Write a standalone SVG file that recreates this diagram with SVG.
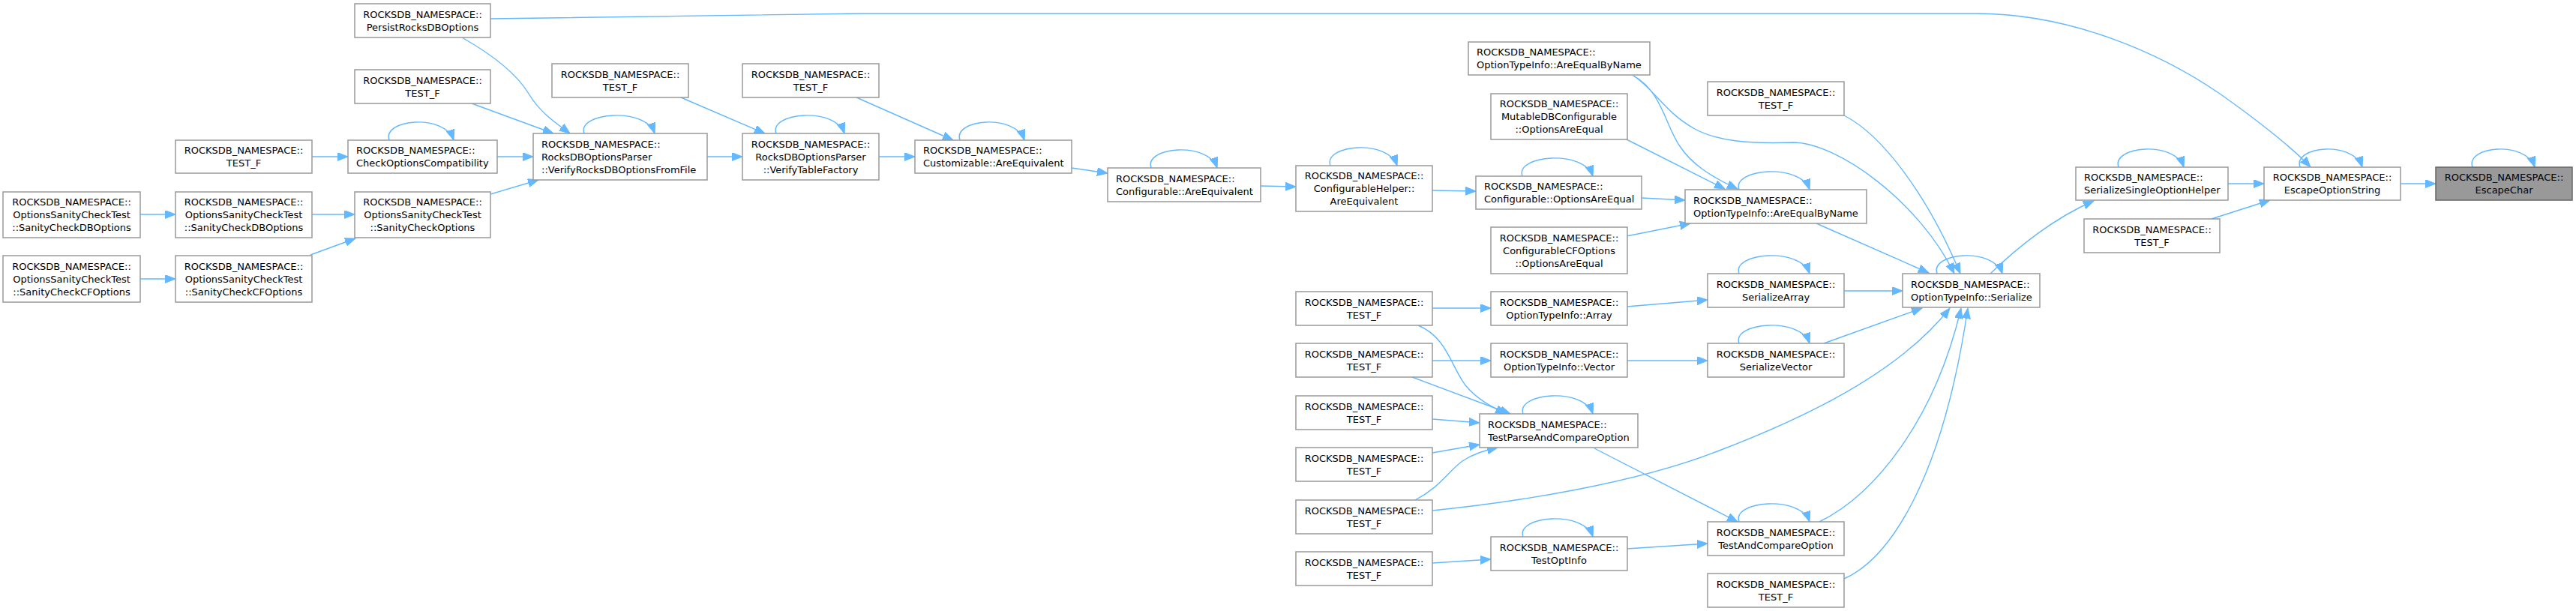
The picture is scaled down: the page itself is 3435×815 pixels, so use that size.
<svg xmlns="http://www.w3.org/2000/svg" width="3435" height="815" viewBox="0 0 3435 815">
<style>
.nd rect{fill:#fff;stroke:#999;stroke-width:1.5}
.hl rect{fill:#999;stroke:#666;stroke-width:1.5}
text{font-family:"DejaVu Sans","Liberation Sans",sans-serif;font-size:13px;fill:#000}
.c{text-anchor:middle}
.e path{fill:none;stroke:#63b8ff;stroke-width:1.4;marker-end:url(#ah)}
</style>
<defs>
<marker id="ah" markerUnits="userSpaceOnUse" markerWidth="15" markerHeight="12" viewBox="0 0 15 12" refX="14" refY="5.5" orient="auto"><path d="M0,0L14,5.5L0,11z" fill="#63b8ff" stroke="#63b8ff" stroke-width="1"/></marker>
</defs>
<rect width="3435" height="815" fill="#fff"/>
<g class="e" id="edges">
<path d="M3201,245L3248,245"/>
<path d="M3297,223C3287,195 3368,187 3380,223"/>
<path d="M2971,245L3019,245"/>
<path d="M2949,292L3027,267"/>
<path d="M3067,223C3057,195 3138,187 3150,223"/>
<path d="M654,25L1150,18L2635,18C2760,18 2880,70 2960,125C3010,160 3060,200 3081,223"/>
<path d="M2825,223C2815,195 2900,187 2912,223"/>
<path d="M2654,365C2690,330 2740,290 2792,268"/>
<path d="M2583,365C2573,337 2658,329 2670,365"/>
<path d="M2422,298L2572,364"/>
<path d="M2459,154C2510,180 2570,260 2614,365"/>
<path d="M2178,101C2205,118 2220,150 2260,172C2290,188 2330,192 2391,190C2450,190 2560,270 2606,365"/>
<path d="M2178,101C2215,120 2222,170 2240,195C2255,218 2280,235 2317,252"/>
<path d="M2169,186L2300,252"/>
<path d="M2189,264L2247,267"/>
<path d="M2169,315L2254,298"/>
<path d="M2319,253C2309,225 2401,217 2413,253"/>
<path d="M2459,388L2537,388"/>
<path d="M2319,365C2309,337 2401,329 2413,365"/>
<path d="M2432,458L2563,411"/>
<path d="M2319,458C2309,430 2401,422 2413,458"/>
<path d="M1910,681C2020,670 2180,645 2290,602C2400,560 2530,500 2600,411"/>
<path d="M2426,696C2500,660 2580,560 2615,411"/>
<path d="M2459,772C2520,745 2590,640 2624,411"/>
<path d="M2319,696C2309,668 2401,660 2413,696"/>
<path d="M2126,598L2317,696"/>
<path d="M2169,732L2277,725"/>
<path d="M2031,716C2021,688 2112,680 2124,716"/>
<path d="M1910,751L1988,746"/>
<path d="M2031,552C2021,524 2112,516 2124,552"/>
<path d="M1910,559L1973,564"/>
<path d="M1910,604L1973,593"/>
<path d="M1887,667C1920,650 1930,630 1950,615C1965,605 1980,601 1997,597"/>
<path d="M1883,503L2014,552"/>
<path d="M1891,434C1930,450 1935,490 1955,515C1970,533 1990,543 2008,552"/>
<path d="M1910,411L1988,411"/>
<path d="M1910,481L1988,481"/>
<path d="M2169,409L2277,400"/>
<path d="M2169,481L2277,481"/>
<path d="M1910,254L1968,255"/>
<path d="M2030,235C2020,207 2112,199 2124,235"/>
<path d="M1774,221C1764,193 1851,185 1863,221"/>
<path d="M1681,248L1728,249"/>
<path d="M1535,224C1525,196 1611,188 1623,224"/>
<path d="M1429,224L1477,231"/>
<path d="M1280,187C1270,159 1354,151 1366,187"/>
<path d="M1172,209L1220,209"/>
<path d="M1142,130L1271,187"/>
<path d="M1035,178C1025,150 1114,142 1126,178"/>
<path d="M943,209L990,209"/>
<path d="M908,130L1020,178"/>
<path d="M779,178C769,150 861,142 873,178"/>
<path d="M616,50C660,75 690,100 705,125C720,150 740,163 760,178"/>
<path d="M629,138L738,178"/>
<path d="M663,209L711,209"/>
<path d="M654,259L718,240"/>
<path d="M519,187C509,159 593,151 605,187"/>
<path d="M416,209L464,209"/>
<path d="M416,286L473,286"/>
<path d="M414,340L474,318"/>
<path d="M187,286L234,286"/>
<path d="M187,372L234,372"/>
</g>
<g id="n_escapechar" class="hl"><rect x="3248" y="223" width="182" height="44"/><text class="c" x="3339" y="241">ROCKSDB_NAMESPACE::</text><text class="c" x="3339" y="258">EscapeChar</text></g>
<g id="n_escopt" class="nd"><rect x="3019" y="223" width="182" height="44"/><text class="c" x="3110" y="241">ROCKSDB_NAMESPACE::</text><text class="c" x="3110" y="258">EscapeOptionString</text></g>
<g id="n_ssoh" class="nd"><rect x="2768" y="223" width="203" height="44"/><text x="2779" y="241">ROCKSDB_NAMESPACE::</text><text x="2779" y="258">SerializeSingleOptionHelper</text></g>
<g id="n_testf_r1" class="nd"><rect x="2779" y="292" width="181" height="45"/><text class="c" x="2869.5" y="310.7">ROCKSDB_NAMESPACE::</text><text class="c" x="2869.5" y="327.7">TEST_F</text></g>
<g id="n_persist" class="nd"><rect x="473" y="5" width="181" height="45"/><text class="c" x="563.5" y="23.7">ROCKSDB_NAMESPACE::</text><text class="c" x="563.5" y="40.7">PersistRocksDBOptions</text></g>
<g id="n_serialize" class="nd"><rect x="2537" y="365" width="183" height="45"/><text x="2548" y="383.7">ROCKSDB_NAMESPACE::</text><text x="2548" y="400.7">OptionTypeInfo::Serialize</text></g>
<g id="n_aebn_r" class="nd"><rect x="2247" y="253" width="242" height="45"/><text x="2258" y="271.7">ROCKSDB_NAMESPACE::</text><text x="2258" y="288.7">OptionTypeInfo::AreEqualByName</text></g>
<g id="n_aebn_top" class="nd"><rect x="1958" y="56" width="242" height="44"/><text x="1969" y="74.2">ROCKSDB_NAMESPACE::</text><text x="1969" y="91.2">OptionTypeInfo::AreEqualByName</text></g>
<g id="n_testf_r2" class="nd"><rect x="2277" y="109" width="182" height="45"/><text class="c" x="2368" y="127.7">ROCKSDB_NAMESPACE::</text><text class="c" x="2368" y="144.7">TEST_F</text></g>
<g id="n_sarray" class="nd"><rect x="2277" y="365" width="182" height="45"/><text class="c" x="2368" y="383.7">ROCKSDB_NAMESPACE::</text><text class="c" x="2368" y="400.7">SerializeArray</text></g>
<g id="n_svector" class="nd"><rect x="2277" y="458" width="182" height="45"/><text class="c" x="2368" y="476.7">ROCKSDB_NAMESPACE::</text><text class="c" x="2368" y="493.7">SerializeVector</text></g>
<g id="n_taco" class="nd"><rect x="2277" y="696" width="182" height="45"/><text class="c" x="2368" y="714.7">ROCKSDB_NAMESPACE::</text><text class="c" x="2368" y="731.7">TestAndCompareOption</text></g>
<g id="n_testf_r3" class="nd"><rect x="2277" y="765" width="182" height="45"/><text class="c" x="2368" y="783.7">ROCKSDB_NAMESPACE::</text><text class="c" x="2368" y="800.7">TEST_F</text></g>
<g id="n_mutable" class="nd"><rect x="1988" y="125" width="182" height="61"/><text class="c" x="2079" y="143.2">ROCKSDB_NAMESPACE::</text><text class="c" x="2079" y="160.2">MutableDBConfigurable</text><text class="c" x="2079" y="177.2">::OptionsAreEqual</text></g>
<g id="n_cfg_oae" class="nd"><rect x="1968" y="235" width="221" height="44"/><text x="1979" y="253.2">ROCKSDB_NAMESPACE::</text><text x="1979" y="270.2">Configurable::OptionsAreEqual</text></g>
<g id="n_cfcfg" class="nd"><rect x="1988" y="303" width="182" height="62"/><text class="c" x="2079" y="321.7">ROCKSDB_NAMESPACE::</text><text class="c" x="2079" y="338.7">ConfigurableCFOptions</text><text class="c" x="2079" y="355.7">::OptionsAreEqual</text></g>
<g id="n_array" class="nd"><rect x="1988" y="389" width="182" height="45"/><text class="c" x="2079" y="407.7">ROCKSDB_NAMESPACE::</text><text class="c" x="2079" y="424.7">OptionTypeInfo::Array</text></g>
<g id="n_vector" class="nd"><rect x="1988" y="458" width="182" height="45"/><text class="c" x="2079" y="476.7">ROCKSDB_NAMESPACE::</text><text class="c" x="2079" y="493.7">OptionTypeInfo::Vector</text></g>
<g id="n_tpaco" class="nd"><rect x="1973" y="552" width="211" height="45"/><text x="1984" y="570.7">ROCKSDB_NAMESPACE::</text><text x="1984" y="587.7">TestParseAndCompareOption</text></g>
<g id="n_testoptinfo" class="nd"><rect x="1988" y="716" width="182" height="45"/><text class="c" x="2079" y="734.7">ROCKSDB_NAMESPACE::</text><text class="c" x="2079" y="751.7">TestOptInfo</text></g>
<g id="n_cfghelper" class="nd"><rect x="1728" y="221" width="182" height="61"/><text class="c" x="1819" y="239.2">ROCKSDB_NAMESPACE::</text><text class="c" x="1819" y="256.2">ConfigurableHelper::</text><text class="c" x="1819" y="273.2">AreEquivalent</text></g>
<g id="n_testf_l1" class="nd"><rect x="1728" y="389" width="182" height="45"/><text class="c" x="1819" y="407.7">ROCKSDB_NAMESPACE::</text><text class="c" x="1819" y="424.7">TEST_F</text></g>
<g id="n_testf_l2" class="nd"><rect x="1728" y="458" width="182" height="45"/><text class="c" x="1819" y="476.7">ROCKSDB_NAMESPACE::</text><text class="c" x="1819" y="493.7">TEST_F</text></g>
<g id="n_testf_l3" class="nd"><rect x="1728" y="528" width="182" height="45"/><text class="c" x="1819" y="546.7">ROCKSDB_NAMESPACE::</text><text class="c" x="1819" y="563.7">TEST_F</text></g>
<g id="n_testf_l4" class="nd"><rect x="1728" y="597" width="182" height="45"/><text class="c" x="1819" y="615.7">ROCKSDB_NAMESPACE::</text><text class="c" x="1819" y="632.7">TEST_F</text></g>
<g id="n_testf_l5" class="nd"><rect x="1728" y="667" width="182" height="45"/><text class="c" x="1819" y="685.7">ROCKSDB_NAMESPACE::</text><text class="c" x="1819" y="702.7">TEST_F</text></g>
<g id="n_testf_l6" class="nd"><rect x="1728" y="736" width="182" height="45"/><text class="c" x="1819" y="754.7">ROCKSDB_NAMESPACE::</text><text class="c" x="1819" y="771.7">TEST_F</text></g>
<g id="n_cfg_ae" class="nd"><rect x="1477" y="224" width="204" height="45"/><text x="1488" y="242.7">ROCKSDB_NAMESPACE::</text><text x="1488" y="259.7">Configurable::AreEquivalent</text></g>
<g id="n_cust_ae" class="nd"><rect x="1220" y="187" width="209" height="44"/><text x="1231" y="205.2">ROCKSDB_NAMESPACE::</text><text x="1231" y="222.2">Customizable::AreEquivalent</text></g>
<g id="n_vtf" class="nd"><rect x="990" y="178" width="182" height="62"/><text class="c" x="1081" y="196.7">ROCKSDB_NAMESPACE::</text><text class="c" x="1081" y="213.7">RocksDBOptionsParser</text><text class="c" x="1081" y="230.7">::VerifyTableFactory</text></g>
<g id="n_testf_d" class="nd"><rect x="990" y="85" width="182" height="45"/><text class="c" x="1081" y="103.7">ROCKSDB_NAMESPACE::</text><text class="c" x="1081" y="120.7">TEST_F</text></g>
<g id="n_vrdb" class="nd"><rect x="711" y="178" width="232" height="62"/><text x="722" y="196.7">ROCKSDB_NAMESPACE::</text><text x="722" y="213.7">RocksDBOptionsParser</text><text x="722" y="230.7">::VerifyRocksDBOptionsFromFile</text></g>
<g id="n_testf_c" class="nd"><rect x="736" y="85" width="182" height="45"/><text class="c" x="827" y="103.7">ROCKSDB_NAMESPACE::</text><text class="c" x="827" y="120.7">TEST_F</text></g>
<g id="n_testf_a" class="nd"><rect x="473" y="93" width="181" height="45"/><text class="c" x="563.5" y="111.7">ROCKSDB_NAMESPACE::</text><text class="c" x="563.5" y="128.7">TEST_F</text></g>
<g id="n_coc" class="nd"><rect x="464" y="187" width="199" height="44"/><text x="475" y="205.2">ROCKSDB_NAMESPACE::</text><text x="475" y="222.2">CheckOptionsCompatibility</text></g>
<g id="n_sco" class="nd"><rect x="473" y="256" width="181" height="61"/><text class="c" x="563.5" y="274.2">ROCKSDB_NAMESPACE::</text><text class="c" x="563.5" y="291.2">OptionsSanityCheckTest</text><text class="c" x="563.5" y="308.2">::SanityCheckOptions</text></g>
<g id="n_testf_b" class="nd"><rect x="234" y="187" width="182" height="44"/><text class="c" x="325" y="205.2">ROCKSDB_NAMESPACE::</text><text class="c" x="325" y="222.2">TEST_F</text></g>
<g id="n_oscdb_mid" class="nd"><rect x="234" y="256" width="182" height="61"/><text class="c" x="325" y="274.2">ROCKSDB_NAMESPACE::</text><text class="c" x="325" y="291.2">OptionsSanityCheckTest</text><text class="c" x="325" y="308.2">::SanityCheckDBOptions</text></g>
<g id="n_osccf_mid" class="nd"><rect x="234" y="341" width="182" height="62"/><text class="c" x="325" y="359.7">ROCKSDB_NAMESPACE::</text><text class="c" x="325" y="376.7">OptionsSanityCheckTest</text><text class="c" x="325" y="393.7">::SanityCheckCFOptions</text></g>
<g id="n_oscdb_left" class="nd"><rect x="4" y="256" width="183" height="61"/><text class="c" x="95.5" y="274.2">ROCKSDB_NAMESPACE::</text><text class="c" x="95.5" y="291.2">OptionsSanityCheckTest</text><text class="c" x="95.5" y="308.2">::SanityCheckDBOptions</text></g>
<g id="n_osccf_left" class="nd"><rect x="4" y="341" width="183" height="62"/><text class="c" x="95.5" y="359.7">ROCKSDB_NAMESPACE::</text><text class="c" x="95.5" y="376.7">OptionsSanityCheckTest</text><text class="c" x="95.5" y="393.7">::SanityCheckCFOptions</text></g>
</svg>
